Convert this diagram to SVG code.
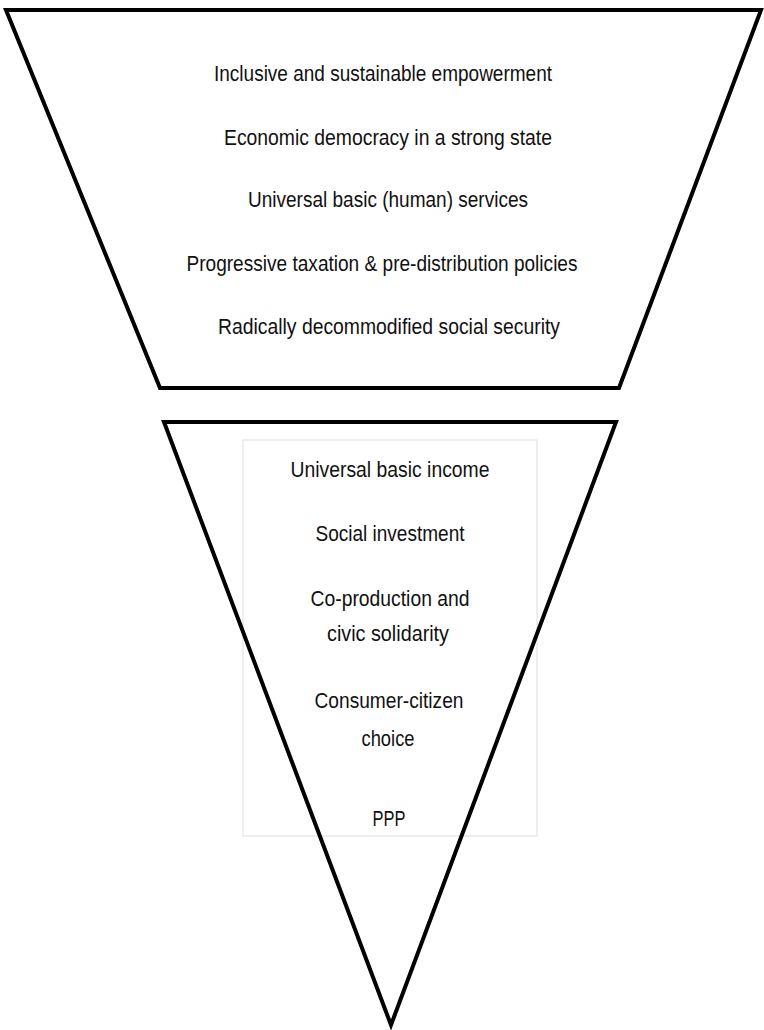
<svg xmlns="http://www.w3.org/2000/svg" width="764" height="1030" viewBox="0 0 764 1030">
  <style>
    .shape { fill: none; stroke: #000000; stroke-width: 4; stroke-linejoin: miter; }
    .panel { fill: #ffffff; stroke: #dddddd; stroke-width: 1; }
    .label { font-family: "Liberation Sans", "Open Sans", sans-serif; font-size: 22px; fill: #111111; text-anchor: middle; }
  </style>
  <rect width="764" height="1030" fill="#ffffff"/>

  <!-- upper band: inverted trapezoid -->
  <g id="upper-band">
    <polygon class="shape" points="6,10 761,10 619,388 160,388"/>
    <text class="label" x="383" y="81" textLength="338" lengthAdjust="spacingAndGlyphs">Inclusive and sustainable empowerment</text>
    <text class="label" x="388" y="145" textLength="328" lengthAdjust="spacingAndGlyphs">Economic democracy in a strong state</text>
    <text class="label" x="388" y="207" textLength="280" lengthAdjust="spacingAndGlyphs">Universal basic (human) services</text>
    <text class="label" x="382" y="271" textLength="391" lengthAdjust="spacingAndGlyphs">Progressive taxation &amp; pre-distribution policies</text>
    <text class="label" x="389" y="334" textLength="342" lengthAdjust="spacingAndGlyphs">Radically decommodified social security</text>
  </g>

  <!-- lower band: label panel with the inverted triangle outline over it -->
  <g id="lower-band">
    <rect class="panel" x="243" y="440" width="294" height="396"/>
    <polygon class="shape" points="164,422 616,422 391,1025"/>
    <text class="label" x="390" y="477" textLength="199" lengthAdjust="spacingAndGlyphs">Universal basic income</text>
    <text class="label" x="390" y="541" textLength="149" lengthAdjust="spacingAndGlyphs">Social investment</text>
    <text class="label" x="390" y="606" textLength="159" lengthAdjust="spacingAndGlyphs">Co-production and</text>
    <text class="label" x="388" y="641" textLength="122" lengthAdjust="spacingAndGlyphs">civic solidarity</text>
    <text class="label" x="389" y="708" textLength="149" lengthAdjust="spacingAndGlyphs">Consumer-citizen</text>
    <text class="label" x="388" y="746" textLength="53" lengthAdjust="spacingAndGlyphs">choice</text>
    <text class="label" x="389" y="826" textLength="33" lengthAdjust="spacingAndGlyphs">PPP</text>
  </g>
</svg>
